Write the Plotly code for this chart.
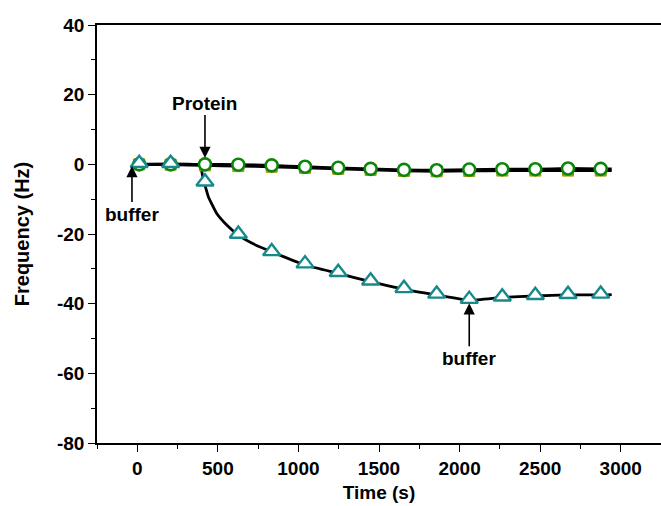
import plotly.graph_objects as go

# Sample times (s)
time_s = [12, 207, 420, 627, 834, 1041, 1247, 1448, 1655, 1858, 2060, 2265, 2470, 2673, 2876]

# Frequency shifts (Hz) for the three runs
freq_square = [0.0, -0.1, -0.3, -0.5, -0.7, -1.0, -1.3, -1.6, -1.9, -2.0, -1.9, -1.8, -1.8, -1.8, -1.8]
freq_circle = [0.0, 0.0, 0.0, -0.1, -0.3, -0.7, -1.0, -1.3, -1.6, -1.7, -1.5, -1.4, -1.4, -1.2, -1.3]
freq_triangle = [0.3, 0.3, -5.0, -20.0, -25.0, -28.5, -31.0, -33.4, -35.6, -37.2, -38.7, -38.0, -37.6, -37.3, -37.2]

# Fitted curves (s, Hz)
fit_flat_t = [12, 207, 420, 627, 834, 1041, 1247, 1448, 1655, 1858, 2060, 2265, 2470, 2673, 2876, 2944]
fit_square = [0.0, -0.1, -0.3, -0.5, -0.7, -1.0, -1.3, -1.6, -1.9, -2.0, -1.9, -1.8, -1.8, -1.8, -1.8, -1.8]
fit_circle = [0.0, 0.0, 0.0, -0.1, -0.3, -0.7, -1.0, -1.3, -1.6, -1.7, -1.5, -1.4, -1.4, -1.2, -1.3, -1.3]
fit_tri_t = [12, 389, 406, 420, 441, 493, 555, 627, 710, 834, 1041, 1247, 1448, 1655, 1858, 2060, 2265, 2470, 2673, 2876, 2944]
fit_tri = [0.0, -0.3, -3.5, -6.0, -9.3, -14.1, -17.4, -20.3, -22.6, -25.1, -28.9, -31.3, -33.7, -35.9, -37.5, -39.0, -38.2, -37.8, -37.5, -37.5, -37.4]

# Axis ticks
x_ticks = [0, 500, 1000, 1500, 2000, 2500, 3000]
x_ticklabels = ["0", "500", "1000", "1500", "2000", "2500", "3000"]
y_ticks = [-80, -60, -40, -20, 0, 20, 40]
y_ticklabels = ["-80", "-60", "-40", "-20", "0", "20", "40"]

FONT = "Liberation Sans, Arial, sans-serif"
bold = lambda size: dict(family=FONT, size=size, color="black", weight="bold")

fig = go.Figure()

for ft, fv in [(fit_flat_t, fit_square), (fit_flat_t, fit_circle), (fit_tri_t, fit_tri)]:
    fig.add_trace(go.Scatter(x=ft, y=fv, mode="lines",
                             line=dict(color="black", width=2.8, shape="spline", smoothing=0.4),
                             hoverinfo="skip", showlegend=False))

fig.add_trace(go.Scatter(x=time_s, y=freq_square, mode="markers",
                         marker=dict(symbol="square", size=11, color="#9a9a10",
                                     line=dict(color="#9a9a10", width=1)),
                         showlegend=False))
fig.add_trace(go.Scatter(x=time_s, y=freq_circle, mode="markers",
                         marker=dict(symbol="circle", size=12, color="white",
                                     line=dict(color="#0a870a", width=2.6)),
                         showlegend=False))
fig.add_trace(go.Scatter(x=time_s, y=freq_triangle, mode="markers",
                         marker=dict(symbol="triangle-up", size=15, color="white",
                                     line=dict(color="#17898b", width=2.4)),
                         showlegend=False))

annotations = [
    dict(x=420, y=1.8, text="Protein", ax=0, ay=-55),
    dict(x=-33, y=-0.5, text="buffer", ax=0, ay=48),
    dict(x=2060, y=-39.9, text="buffer", ax=0, ay=55),
]
for a in annotations:
    fig.add_annotation(xref="x", yref="y", axref="pixel", ayref="pixel",
                       showarrow=True, arrowhead=2, arrowsize=1.4, arrowwidth=1.6,
                       arrowcolor="black", font=bold(19), standoff=0, **a)

fig.update_xaxes(range=[-250, 3250], tickvals=x_ticks, ticktext=x_ticklabels,
                 showline=True, linecolor="black", linewidth=1.5, mirror=True,
                 ticks="outside", ticklen=7, tickwidth=1.3, tickcolor="black",
                 minor=dict(dtick=250, tick0=0, ticks="outside", ticklen=4, tickwidth=1.3, tickcolor="black"),
                 showgrid=False, zeroline=False,
                 tickfont=bold(19),
                 title=dict(text="Time (s)", font=bold(19), standoff=8))
fig.update_yaxes(range=[-80, 40], tickvals=y_ticks, ticktext=y_ticklabels,
                 showline=True, linecolor="black", linewidth=1.5, mirror=False,
                 ticks="outside", ticklen=7, tickwidth=1.3, tickcolor="black",
                 minor=dict(dtick=10, tick0=0, ticks="outside", ticklen=4, tickwidth=1.3, tickcolor="black"),
                 showgrid=False, zeroline=False,
                 tickfont=bold(19),
                 title=dict(text="Frequency (Hz)", font=bold(20), standoff=22))

fig.update_layout(width=661, height=506, margin=dict(l=97, r=0, t=25, b=63),
                  plot_bgcolor="white", paper_bgcolor="white")

fig.write_html("out.html")
